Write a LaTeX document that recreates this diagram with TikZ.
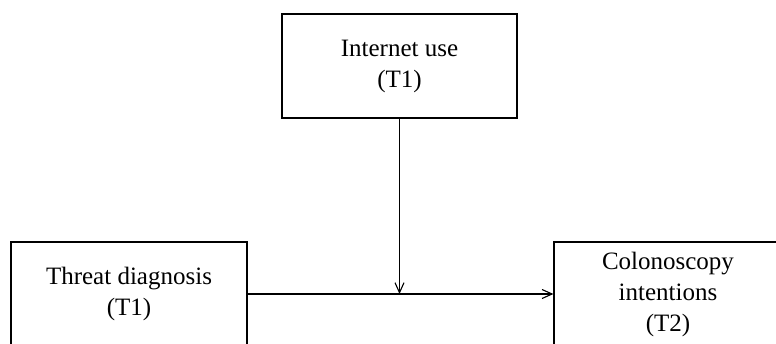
\documentclass[tikz,border=0pt]{standalone}
\usepackage{fontspec}
\setmainfont{Liberation Serif}
\usetikzlibrary{arrows.meta}

\begin{document}
\begin{tikzpicture}[
    x=1pt, y=-1pt,
    box/.style={rectangle, draw, line width=1.2pt, align=center, inner sep=0pt,
        font=\fontsize{25}{31}\selectfont},
    arrow/.style={-{Straight Barb[length=10pt, width=9pt, line width=1.1pt]}, line width=1.2pt}
]

% Frame of the picture (boxes run past the edges)
\path[use as bounding box, clip] (0,0) rectangle (776,343);

% Boxes
\node[box, minimum width=235pt, minimum height=104pt] (inet) at (399.5,66) {Internet use\\(T1)};
\node[box, minimum width=236pt, minimum height=104pt] (diag) at (129,294) {Threat diagnosis\\(T1)};
\node[box, minimum width=228pt, minimum height=104pt] (intent) at (668,294) {Colonoscopy\\intentions\\(T2)};

% Moderation point on the main path
\coordinate (meet) at (inet.south |- diag.east);

% Connections
\draw[arrow] (diag) -- (intent);
\draw[arrow] (inet) -- (meet);

\end{tikzpicture}
\end{document}
